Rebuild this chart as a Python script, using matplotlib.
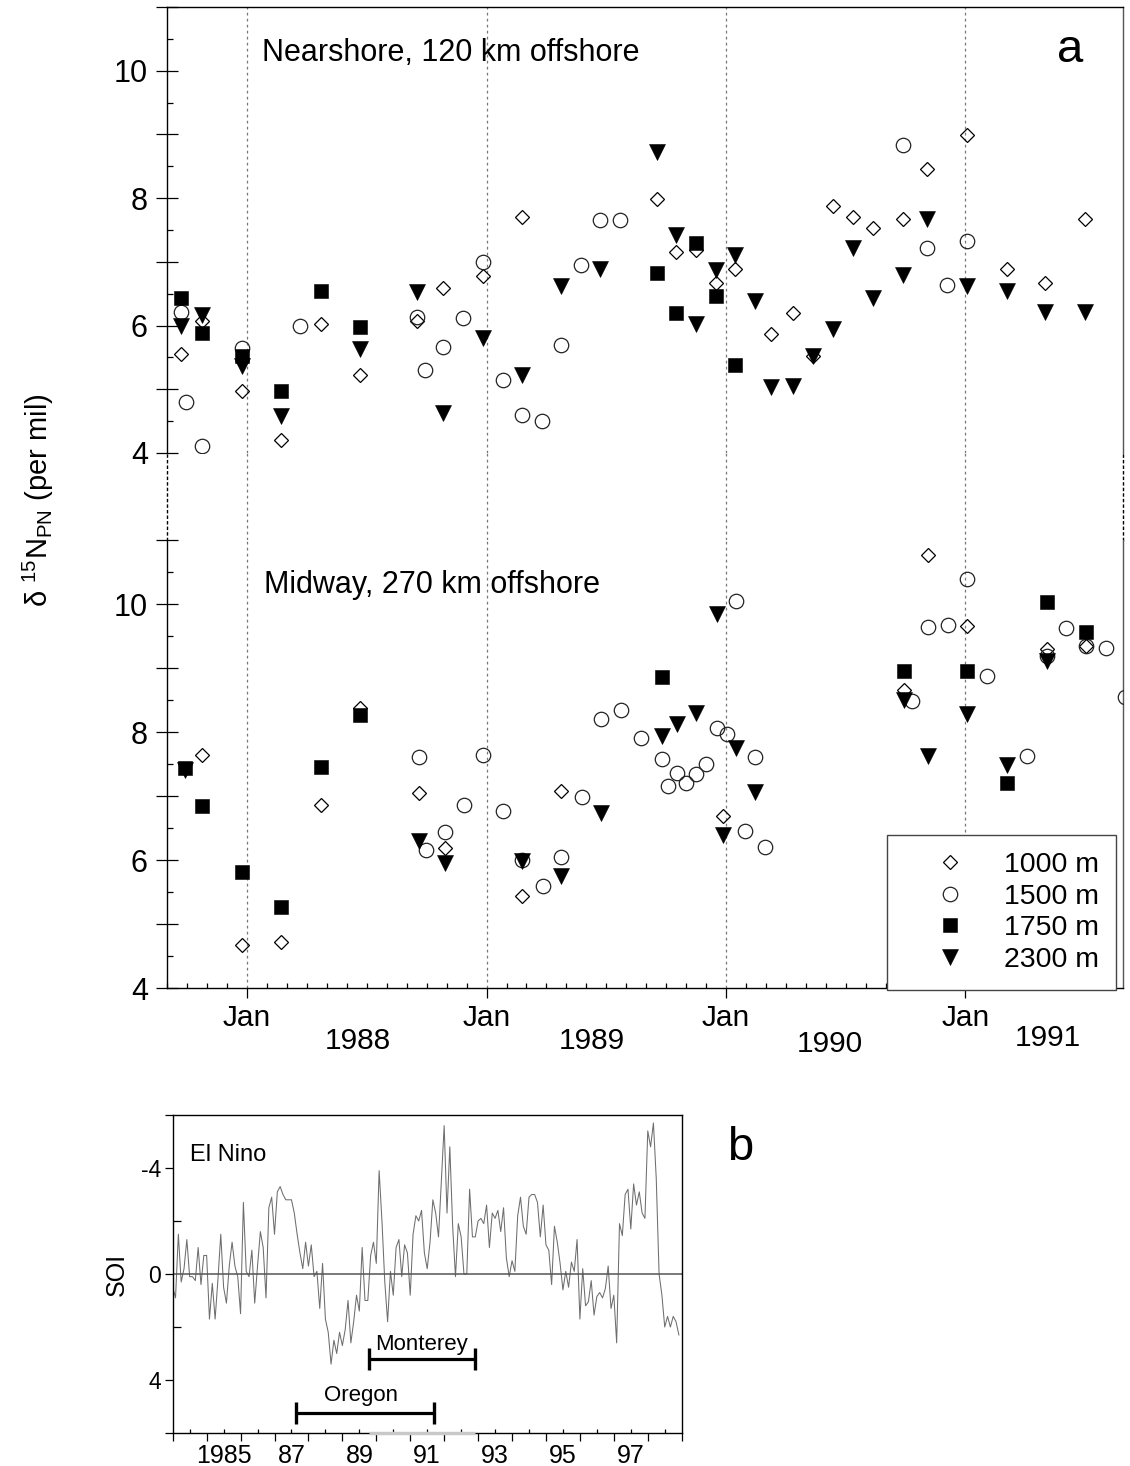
import numpy as np
import matplotlib
matplotlib.use('Agg')
import matplotlib.pyplot as plt
from matplotlib.ticker import FixedLocator, FixedFormatter, NullFormatter

plt.rcParams['font.family'] = ['Liberation Sans', 'DejaVu Sans']
plt.rcParams['mathtext.fontset'] = 'custom'
plt.rcParams['mathtext.rm'] = 'Liberation Sans'
plt.rcParams['mathtext.it'] = 'Liberation Sans:italic'
plt.rcParams['mathtext.default'] = 'regular'

# ---- d15N of particulate N, nearshore mooring (decimal year, per mil) ----
near_1000_t = [1987.724, 1987.812, 1987.977, 1988.141, 1988.307, 1988.471, 1988.711, 1988.819,
               1988.986, 1989.149, 1989.710, 1989.790, 1989.873, 1989.957, 1990.037, 1990.190,
               1990.281, 1990.364, 1990.445, 1990.531, 1990.612, 1990.740, 1990.840, 1991.005,
               1991.172, 1991.332, 1991.500]
near_1000_v = [5.56, 6.07, 4.98, 4.21, 6.02, 5.23, 6.07, 6.59,
               6.78, 7.70, 7.98, 7.16, 7.18, 6.67, 6.89, 5.87,
               6.20, 5.52, 7.87, 7.70, 7.53, 7.67, 8.46, 8.99,
               6.89, 6.67, 7.68]

near_1500_t = [1987.724, 1987.745, 1987.812, 1987.977, 1988.223, 1988.711, 1988.745, 1988.819,
               1988.900, 1988.986, 1989.067, 1989.149, 1989.230, 1989.310, 1989.393, 1989.473,
               1989.557, 1990.740, 1990.840, 1990.924, 1991.005]
near_1500_v = [6.22, 4.80, 4.11, 5.65, 5.99, 6.13, 5.31, 5.67,
               6.12, 7.00, 5.15, 4.60, 4.50, 5.69, 6.95, 7.65,
               7.65, 8.83, 7.22, 6.63, 7.32]

near_1750_t = [1987.724, 1987.812, 1987.977, 1988.141, 1988.307, 1988.471, 1989.710, 1989.790,
               1989.873, 1989.957, 1990.037]
near_1750_v = [6.44, 5.89, 5.52, 4.97, 6.55, 5.98, 6.83, 6.19,
               7.30, 6.46, 5.38]

near_2300_t = [1987.724, 1987.812, 1987.977, 1988.141, 1988.471, 1988.711, 1988.819, 1988.986,
               1989.149, 1989.310, 1989.473, 1989.710, 1989.790, 1989.873, 1989.957, 1990.037,
               1990.120, 1990.190, 1990.281, 1990.364, 1990.445, 1990.531, 1990.612, 1990.740,
               1990.840, 1991.005, 1991.172, 1991.332, 1991.500]
near_2300_v = [5.99, 6.17, 5.36, 4.58, 5.63, 6.53, 4.63, 5.81,
               5.22, 6.62, 6.89, 8.73, 7.42, 6.03, 6.88, 7.11,
               6.38, 5.03, 5.05, 5.52, 5.95, 7.22, 6.43, 6.80,
               7.67, 6.62, 6.54, 6.22, 6.22]

# ---- midway mooring ----
mid_1000_t = [1987.812, 1987.977, 1988.141, 1988.307, 1988.471, 1988.717, 1988.826, 1989.150,
              1989.313, 1989.988, 1990.743, 1990.845, 1991.008, 1991.339, 1991.503]
mid_1000_v = [7.64, 4.67, 4.72, 6.86, 8.37, 7.04, 6.19, 5.43,
              7.08, 6.68, 8.66, 10.76, 9.66, 9.30, 9.35]

mid_1500_t = [1988.717, 1988.749, 1988.826, 1988.905, 1988.986, 1989.069, 1989.150, 1989.234,
              1989.313, 1989.397, 1989.477, 1989.560, 1989.645, 1989.731, 1989.759, 1989.794,
              1989.835, 1989.874, 1989.916, 1989.961, 1990.003, 1990.041, 1990.080, 1990.121,
              1990.165, 1990.775, 1990.845, 1990.926, 1991.008, 1991.088, 1991.256, 1991.339,
              1991.420, 1991.503, 1991.586, 1991.666]
mid_1500_v = [7.61, 6.15, 6.43, 6.86, 7.64, 6.77, 6.00, 5.60,
              6.05, 6.98, 8.21, 8.35, 7.91, 7.58, 7.16, 7.36,
              7.20, 7.34, 7.50, 8.07, 7.97, 10.05, 6.45, 7.61,
              6.21, 8.49, 9.64, 9.67, 10.39, 8.87, 7.63, 9.18,
              9.63, 9.34, 9.31, 8.55]

mid_1750_t = [1987.740, 1987.812, 1987.977, 1988.141, 1988.307, 1988.471, 1989.731, 1990.743,
              1991.008, 1991.172, 1991.339, 1991.503]
mid_1750_v = [7.43, 6.85, 5.82, 5.26, 7.46, 8.26, 8.86, 8.96,
              8.95, 7.21, 10.03, 9.56]

mid_2300_t = [1987.740, 1988.717, 1988.826, 1989.150, 1989.313, 1989.477, 1989.731, 1989.794,
              1989.874, 1989.961, 1989.988, 1990.041, 1990.121, 1990.743, 1990.845, 1991.008,
              1991.172, 1991.339]
mid_2300_v = [7.40, 6.30, 5.95, 5.98, 5.75, 6.74, 7.94, 8.13,
              8.30, 9.84, 6.39, 7.75, 7.06, 8.50, 7.62, 8.28,
              7.48, 9.11]

depth_labels = ['1000 m', '1500 m', '1750 m', '2300 m']
jan_years = [1988, 1989, 1990, 1991]
year_labels = ['1988', '1989', '1990', '1991']
year_label_x = [1988.464, 1989.439, 1990.433, 1991.343]

# ---- monthly Southern Oscillation Index, Jan 1984 onward ----
soi_start = 1984.0
soi = [0.5, 0.9, -1.5, 0.3, -0.2, -1.3, 0.1, 0.1, 0.25, -1.0, 0.4, -0.7,
       -0.7, 1.7, 0.35, 1.7, 0.2, -1.5, 0.5, 1.1, -0.3, -1.2, -0.3, 0.1,
       1.5, -2.7, -0.1, 0.1, -0.9, 1.1, -0.3, -1.6, -1.0, 0.9, -2.5, -2.9,
       -1.5, -3.1, -3.3, -3.0, -2.8, -2.8, -2.8, -2.3, -1.5, -0.8, -0.2, -1.2,
       -0.3, -1.1, 0.1, -0.1, 1.3, -0.4, 1.7, 2.2, 3.4, 2.5, 3.0, 2.2,
       2.7, 2.1, 1.0, 2.6, 1.8, 0.8, 1.4, -1.0, 1.0, 1.0, -0.7, -1.2,
       -0.4, -3.9, -2.0, 0.3, 1.8, -0.1, 0.8, -1.0, -1.3, 0.1, -1.1, -0.8,
       0.8, -1.5, -2.2, -2.0, -2.4, -0.8, -0.2, -1.2, -2.8, -2.3, -1.4, -3.5,
       -5.6, -2.3, -4.8, -1.8, 0.1, -1.9, -1.4, 0.0, 0.0, -3.2, -1.4, -1.4,
       -2.0, -2.1, -1.9, -2.6, -1.0, -2.3, -2.1, -2.4, -1.6, -2.5, -0.6, 0.1,
       -0.5, -0.1, -2.2, -2.9, -1.8, -1.5, -2.9, -3.0, -3.0, -2.7, -1.4, -2.6,
       -1.1, -0.9, 0.4, -1.8, -1.2, -0.4, 0.6, -0.1, 0.5, -0.45, -0.1, -1.3,
       1.7, -0.2, 1.2, 1.05, 0.25, 1.55, 0.85, 0.7, 0.9, 0.55, -0.3, 1.3,
       0.8, 2.6, -1.9, -1.45, -3.0, -3.2, -1.7, -3.4, -2.6, -3.1, -2.3, -2.1,
       -5.4, -4.8, -5.7, -3.6, 0.0, 0.8, 2.0, 1.6, 2.0, 1.6, 1.8, 2.3]
oregon_span = [1987.63, 1991.69]
monterey_span = [1989.78, 1992.90]
soi_years = list(range(1984, 2000))
soi_year_labels = ['', '1985', '', '87', '', '89', '', '91', '', '93', '', '95', '', '97', '']

W, H = 1130, 1466
X0, X1 = 1987.667, 1991.658


def box(l, t, r, b):
    return [l / W, 1 - b / H, (r - l) / W, (b - t) / H]


fig = plt.figure(figsize=(W / 100, H / 100), dpi=100)
ax_near = fig.add_axes(box(167.3, 7, 1123, 453))
ax_gap = fig.add_axes(box(167.3, 453, 1123, 540))
ax_mid = fig.add_axes(box(167.3, 540, 1123, 988))
ax_soi = fig.add_axes(box(172.7, 1115, 681.7, 1433))

dot = (0, (2.2, 2.6))
sty_dia = dict(marker='D', ms=7.1, mfc='none', mec='black', mew=0.9, ls='none', zorder=3)
sty_cir = dict(marker='o', ms=10.4, mfc='none', mec='#222222', mew=0.9, ls='none', zorder=4)
sty_sq = dict(marker='s', ms=10.6, mfc='black', mec='black', mew=0.4, ls='none', zorder=5)
sty_tri = dict(marker='v', ms=11.0, mfc='black', mec='black', mew=0.4, ls='none', zorder=6)


def depth_axes(ax):
    ax.set_xlim(X0, X1)
    ax.set_ylim(4, 11)
    ax.yaxis.set_major_locator(FixedLocator(list(range(4, 12))))
    ax.yaxis.set_major_formatter(FixedFormatter(['4', '', '6', '', '8', '', '10', '']))
    ax.yaxis.set_minor_locator(FixedLocator(list(np.arange(4.5, 11, 1.0))))
    ax.tick_params(axis='y', which='major', direction='inout', length=15.8, width=0.9,
                   pad=6, labelsize=22, colors='black')
    ax.tick_params(axis='y', which='minor', direction='in', length=4.3, width=0.9)
    for s in ax.spines.values():
        s.set_linewidth(1.0)
    ax.spines['right'].set_color('#555555')
    for yr in jan_years:
        ax.axvline(yr, color='#777777', lw=0.9, ls=dot, zorder=1)


depth_axes(ax_near)
depth_axes(ax_mid)

# upper panel: no bottom axis
ax_near.spines['bottom'].set_visible(False)
ax_near.tick_params(axis='x', which='both', bottom=False, labelbottom=False)
ax_near.plot(near_1000_t, near_1000_v, **sty_dia)
ax_near.plot(near_1500_t, near_1500_v, **sty_cir)
ax_near.plot(near_1750_t, near_1750_v, **sty_sq)
ax_near.plot(near_2300_t, near_2300_v, **sty_tri)
ax_near.text(1988.061, 10.28, 'Nearshore, 120 km offshore', fontsize=22, ha='left', va='center')

# lower panel
ax_mid.spines['top'].set_visible(False)
h1, = ax_mid.plot(mid_1000_t, mid_1000_v, **sty_dia)
h2, = ax_mid.plot(mid_1500_t, mid_1500_v, **sty_cir)
h3, = ax_mid.plot(mid_1750_t, mid_1750_v, **sty_sq)
h4, = ax_mid.plot(mid_2300_t, mid_2300_v, **sty_tri)
ax_mid.text(1988.07, 10.29, 'Midway, 270 km offshore', fontsize=22, ha='left', va='center')

months = [X0 + i / 12 for i in range(48)]
months = [m for m in months if min(abs(m - j) for j in jan_years) > 0.02 and m < X1]
ax_mid.xaxis.set_major_locator(FixedLocator(jan_years))
ax_mid.xaxis.set_major_formatter(FixedFormatter(['Jan'] * 4))
ax_mid.xaxis.set_minor_locator(FixedLocator(months))
ax_mid.tick_params(axis='x', which='major', direction='out', length=7.2, width=0.9,
                   pad=4, labelsize=21.5)
ax_mid.tick_params(axis='x', which='minor', direction='in', length=3.6, width=0.9)
for lab, x, yoff in zip(year_labels, year_label_x, [-0.118, -0.118, -0.125, -0.112]):
    ax_mid.text(x, yoff, lab, transform=ax_mid.get_xaxis_transform(),
                fontsize=21.5, ha='center', va='center')

leg = ax_mid.legend([h1, h2, h3, h4], depth_labels, loc='lower right',
                    bbox_to_anchor=(0.9927, -0.0045), borderaxespad=0, fancybox=False,
                    edgecolor='#444444', framealpha=1, fontsize=20.5, borderpad=0.6,
                    handlelength=3.2, handletextpad=0.3, labelspacing=0.2, numpoints=1)
leg.get_frame().set_linewidth(1.0)

# dotted link between the two panels
ax_gap.set_xlim(X0, X1)
ax_gap.set_ylim(0, 1)
ax_gap.set_xticks([])
ax_gap.set_yticks([])
ax_gap.patch.set_visible(False)
ax_gap.spines['top'].set_visible(False)
ax_gap.spines['bottom'].set_visible(False)
for side in ['left', 'right']:
    ax_gap.spines[side].set_linestyle((0, (1.5, 2.5)))
    ax_gap.spines[side].set_linewidth(1.0)
for yr in jan_years:
    ax_gap.axvline(yr, color='#777777', lw=0.9, ls=dot)

fig.text(1070 / W, 1 - 62 / H, 'a', fontsize=34, ha='center', va='baseline')
fig.text(38 / W, 1 - 500 / H, r'$\delta\ ^{15}$N$_{PN}$ (per mil)', rotation=90,
         fontsize=21, ha='center', va='center')

# ---- panel b: SOI ----
soi_t = [soi_start + i / 12 for i in range(len(soi))]
ax_soi.plot(soi_t, soi, color='#6e6e6e', lw=0.75, zorder=2)
ax_soi.axhline(0, color='#555555', lw=1.1, zorder=2)
ax_soi.set_xlim(1984, 1999)
ax_soi.set_ylim(6, -6)
for s in ax_soi.spines.values():
    s.set_linewidth(1.0)

ax_soi.yaxis.set_major_locator(FixedLocator([-6, -4, 0, 4, 6]))
ax_soi.yaxis.set_major_formatter(FixedFormatter(['', '-4', '0', '4', '']))
ax_soi.yaxis.set_minor_locator(FixedLocator([-2, 2]))
ax_soi.tick_params(axis='y', which='major', direction='out', length=5.5, width=0.9,
                   pad=3, labelsize=16.5)
ax_soi.tick_params(axis='y', which='minor', direction='in', length=5.5, width=0.9)

ax_soi.xaxis.set_major_locator(FixedLocator(soi_years))
ax_soi.xaxis.set_major_formatter(NullFormatter())
ax_soi.xaxis.set_minor_locator(FixedLocator([y + 0.5 for y in soi_years[:-1]]))
ax_soi.xaxis.set_minor_formatter(FixedFormatter(soi_year_labels))
ax_soi.tick_params(axis='x', which='major', direction='out', length=6, width=0.9)
ax_soi.tick_params(axis='x', which='minor', direction='in', length=3, width=0.9,
                   pad=8, labelsize=18)

for span, y, name, ty, tx in [(oregon_span, 5.26, 'Oregon', 4.80, 1989.56),
                              (monterey_span, 3.21, 'Monterey', 2.88, None)]:
    ax_soi.plot(span, [y, y], color='black', lw=2.3, solid_capstyle='butt', zorder=4)
    ax_soi.plot(span, [y, y], ls='none', marker='|', ms=16, mew=2.4, color='black', zorder=4)
    ax_soi.text(tx if tx else sum(span) / 2, ty, name, fontsize=16, ha='center', va='baseline')
ax_soi.plot(monterey_span, [6, 6], color='#c8c8c8', lw=2.5, clip_on=False, zorder=3,
            solid_capstyle='butt')

ax_soi.text(1984.51, -4.5, 'El Nino', fontsize=17, ha='left', va='center')
fig.text(117 / W, 1 - 1274 / H, 'SOI', rotation=90, fontsize=18, ha='center', va='center')
fig.text(740 / W, 1 - 1160 / H, 'b', fontsize=34, ha='center', va='baseline')

fig.savefig('out.png', dpi=100)
